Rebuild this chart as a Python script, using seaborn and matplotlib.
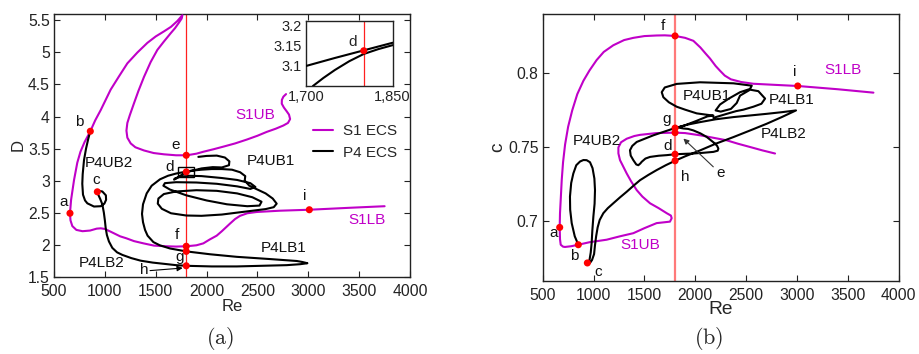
import matplotlib
matplotlib.use("Agg")
import matplotlib.pyplot as plt
import seaborn as sns
import pandas as pd

# ---------------- data ----------------
# Panel (a): S1 ECS branch (Re, D), from S1LB end to S1UB end
S1_A = [(3750, 2.60), (3400, 2.575), (3010, 2.545), (2722, 2.53), (2493, 2.51), (2400, 2.49),
        (2329, 2.45), (2280, 2.40), (2231, 2.33), (2150, 2.21), (2099, 2.14), (2030, 2.08),
        (1968, 2.02), (1900, 1.99), (1805, 1.975), (1700, 1.97), (1600, 1.975), (1483, 1.985),
        (1380, 2.02), (1287, 2.055), (1210, 2.10), (1150, 2.13), (1060, 2.20), (1000, 2.245),
        (960, 2.255), (920, 2.25), (854, 2.22), (780, 2.21), (720, 2.23), (680, 2.29),
        (662, 2.38), (657, 2.49), (668, 2.70), (697, 3.01), (729, 3.28), (760, 3.45),
        (800, 3.60), (857, 3.77), (905, 3.94), (959, 4.10), (1057, 4.42), (1140, 4.63),
        (1221, 4.83), (1320, 5.00), (1418, 5.15), (1500, 5.25), (1582, 5.33), (1650, 5.40),
        (1712, 5.49), (1745, 5.55), (1762, 5.58), (1755, 5.53), (1730, 5.47), (1690, 5.38),
        (1647, 5.30), (1580, 5.17), (1516, 5.04), (1450, 4.85), (1385, 4.62), (1330, 4.40),
        (1287, 4.21), (1245, 4.02), (1221, 3.90), (1212, 3.78), (1221, 3.67), (1254, 3.58),
        (1300, 3.52), (1385, 3.47), (1480, 3.43), (1582, 3.41), (1700, 3.395), (1805, 3.395),
        (1900, 3.42), (1968, 3.45), (2070, 3.49), (2165, 3.53), (2280, 3.58), (2395, 3.64),
        (2500, 3.70), (2591, 3.76), (2680, 3.81), (2755, 3.86), (2800, 3.90), (2821, 3.96),
        (2810, 4.03), (2788, 4.08), (2760, 4.14), (2739, 4.20), (2740, 4.26), (2755, 4.31),
        (2781, 4.35)]

# Panel (a): P4 ECS branch (Re, D), from b through c, the lower hairpin and the tangle
P4_A = [(857, 3.77), (838, 3.66), (815, 3.50), (795, 3.32), (782, 3.10), (778, 2.95),
        (785, 2.78), (805, 2.69), (828, 2.645), (893, 2.595), (959, 2.60), (995, 2.64),
        (1012, 2.70), (1010, 2.77), (975, 2.83), (940, 2.84), (926, 2.825), (935, 2.78),
        (955, 2.71), (975, 2.63), (990, 2.50), (1000, 2.38), (1008, 2.26), (1020, 2.15),
        (1040, 2.05), (1073, 1.95), (1120, 1.88), (1172, 1.84), (1260, 1.79), (1352, 1.75),
        (1470, 1.72), (1582, 1.70), (1700, 1.68), (1800, 1.67), (2050, 1.66), (2296, 1.66),
        (2550, 1.67), (2788, 1.68), (2920, 1.695), (2991, 1.71), (2940, 1.73), (2886, 1.745),
        (2624, 1.775), (2296, 1.81), (2034, 1.85), (1800, 1.895), (1641, 1.94), (1540, 1.99),
        (1477, 2.04), (1420, 2.14), (1395, 2.23), (1375, 2.35), (1365, 2.48), (1375, 2.63),
        (1411, 2.80), (1460, 2.92), (1542, 3.02), (1620, 3.075), (1700, 3.11), (1750, 3.125),
        (1800, 3.14), (1850, 3.155), (1950, 3.17), (2050, 3.18), (2150, 3.18), (2250, 3.17),
        (2330, 3.13), (2380, 3.07), (2375, 3.00), (2420, 2.92), (2500, 2.86), (2580, 2.80),
        (2650, 2.72), (2689, 2.64), (2660, 2.585), (2580, 2.555), (2450, 2.53), (2300, 2.50),
        (2150, 2.47), (1950, 2.45), (1800, 2.455), (1650, 2.49), (1560, 2.56), (1520, 2.64),
        (1526, 2.72), (1580, 2.79), (1700, 2.83), (1900, 2.85), (2100, 2.84), (2300, 2.80),
        (2450, 2.74), (2540, 2.67), (2520, 2.61), (2400, 2.60), (2200, 2.63), (2000, 2.69),
        (1800, 2.77), (1640, 2.86), (1575, 2.92), (1590, 2.96), (1700, 2.975), (1900, 2.97),
        (2100, 2.95), (2300, 2.91), (2430, 2.87), (2480, 2.90), (2430, 2.96), (2300, 3.01),
        (2150, 3.04), (1950, 3.07), (1830, 3.075), (1740, 3.06), (1690, 3.035), (1680, 3.015),
        (1700, 3.03), (1740, 3.075), (1780, 3.11), (1800, 3.13), (1850, 3.15), (1950, 3.19),
        (2060, 3.21), (2150, 3.205), (2220, 3.24), (2224, 3.30), (2180, 3.36), (2100, 3.39),
        (2000, 3.385), (1919, 3.37)]

# Panel (a) inset (zoom around d)
INSET_L1 = [(1700, 3.100), (1750, 3.120), (1800, 3.139), (1850, 3.158)]
INSET_L2 = [(1712, 3.05), (1730, 3.07), (1750, 3.09), (1775, 3.112), (1800, 3.13),
            (1825, 3.142), (1850, 3.152)]
INSET_PT = [(1800, 3.138)]

# Panel (a) labelled solutions
PTS_A = [(657, 2.49), (857, 3.77), (926, 2.825), (1800, 3.135), (1800, 3.395),
         (1800, 1.975), (1800, 1.895), (1800, 1.67), (3010, 2.545)]

# Panel (b): S1 ECS branch (Re, c)
S1_B = [(3751, 0.787), (3400, 0.7893), (3007, 0.7915), (2800, 0.7922), (2571, 0.7930),
        (2450, 0.7942), (2350, 0.7960), (2290, 0.7985), (2243, 0.8018), (2200, 0.8050),
        (2145, 0.8100), (2100, 0.8135), (2050, 0.8175), (1981, 0.8220), (1900, 0.8240),
        (1801, 0.8253), (1700, 0.8257), (1620, 0.8256), (1500, 0.8252), (1391, 0.8240),
        (1300, 0.8225), (1194, 0.8190), (1100, 0.8145), (1030, 0.8090), (960, 0.8020),
        (900, 0.7950), (840, 0.7860), (790, 0.7750), (750, 0.7640), (720, 0.7520),
        (700, 0.7400), (687, 0.7280), (678, 0.7160), (670, 0.7056), (667, 0.6960),
        (670, 0.6880), (677, 0.6843), (700, 0.6830), (719, 0.6828), (780, 0.6833),
        (850, 0.6843), (960, 0.6860), (1129, 0.6877), (1260, 0.6900), (1391, 0.6921),
        (1500, 0.6955), (1620, 0.6989), (1700, 0.6995), (1751, 0.6999), (1768, 0.7022),
        (1760, 0.7040), (1719, 0.7056), (1640, 0.7090), (1555, 0.7123), (1480, 0.7168),
        (1424, 0.7212), (1370, 0.7270), (1326, 0.7324), (1285, 0.7380), (1260, 0.7414),
        (1244, 0.7460), (1244, 0.7500), (1270, 0.7535), (1326, 0.7559), (1400, 0.7577),
        (1457, 0.7585), (1620, 0.7597), (1801, 0.7600), (1900, 0.7597), (2047, 0.7582),
        (2180, 0.7565), (2309, 0.7548), (2420, 0.7525), (2538, 0.7503), (2660, 0.7480),
        (2784, 0.7459)]

# Panel (b): P4 ECS branch (Re, c)
P4_B = [(850, 0.6843), (815, 0.6900), (785, 0.6989), (770, 0.7080), (768, 0.7168),
        (780, 0.7260), (801, 0.7324), (830, 0.7380), (867, 0.7405), (900, 0.7415),
        (932, 0.7414), (965, 0.7400), (990, 0.7360), (1008, 0.7290), (1014, 0.7212),
        (1010, 0.7120), (998, 0.7033), (988, 0.6940), (981, 0.6855), (972, 0.6790),
        (960, 0.6740), (939, 0.6720), (965, 0.6720), (985, 0.6740), (1005, 0.6780),
        (1014, 0.6840), (1025, 0.6899), (1040, 0.6960), (1060, 0.7010), (1096, 0.7056),
        (1140, 0.7090), (1194, 0.7123), (1260, 0.7163), (1326, 0.7201), (1390, 0.7240),
        (1457, 0.7279), (1540, 0.7315), (1620, 0.7347), (1710, 0.7380), (1801, 0.7410),
        (1900, 0.7440), (2047, 0.7480), (2200, 0.7525), (2375, 0.7570), (2540, 0.7615),
        (2702, 0.7660), (2850, 0.7705), (2990, 0.7750), (2850, 0.7738), (2702, 0.7727),
        (2540, 0.7716), (2375, 0.7705), (2200, 0.7690), (2047, 0.7671), (1930, 0.7655),
        (1850, 0.7640), (1801, 0.7631), (1700, 0.7608), (1588, 0.7582), (1500, 0.7558),
        (1424, 0.7537), (1380, 0.7510), (1358, 0.7481), (1365, 0.7445), (1391, 0.7414),
        (1420, 0.7385), (1440, 0.7380), (1460, 0.7392), (1473, 0.7403), (1510, 0.7425),
        (1555, 0.7436), (1640, 0.7444), (1719, 0.7448), (1801, 0.7454), (1900, 0.7457),
        (1981, 0.7459), (2080, 0.7464), (2178, 0.7470), (2220, 0.7478), (2227, 0.7492),
        (2215, 0.7510), (2194, 0.7526), (2150, 0.7550), (2112, 0.7571), (2050, 0.7595),
        (1981, 0.7615), (1930, 0.7625), (1883, 0.7628), (1830, 0.7635), (1900, 0.7650),
        (2014, 0.7680), (2120, 0.7710), (2178, 0.7715), (2100, 0.7722), (2014, 0.7730),
        (1900, 0.7755), (1817, 0.7775), (1740, 0.7805), (1686, 0.7839), (1670, 0.7873),
        (1700, 0.7905), (1817, 0.7929), (2047, 0.7940), (2375, 0.7933), (2555, 0.7917),
        (2538, 0.7895), (2440, 0.7873), (2330, 0.7830), (2243, 0.7790), (2200, 0.7750),
        (2250, 0.7742), (2350, 0.7760), (2407, 0.7800), (2440, 0.7850), (2539, 0.7890),
        (2620, 0.7880), (2686, 0.7830), (2650, 0.7795), (2571, 0.7775), (2473, 0.7755),
        (2400, 0.7745), (2300, 0.7725), (2178, 0.7700)]

PTS_B = [(667, 0.6960), (850, 0.6843), (939, 0.6720), (1801, 0.7454), (1801, 0.8253),
         (1801, 0.7631), (1801, 0.7600), (1801, 0.7410), (3007, 0.7915)]

RE_CUT = 1800
X_TICKS = [500, 1000, 1500, 2000, 2500, 3000, 3500, 4000]
YA_TICKS = [1.5, 2, 2.5, 3, 3.5, 4, 4.5, 5, 5.5]
YA_LABELS = ['1.5', '2', '2.5', '3', '3.5', '4', '4.5', '5', '5.5']
YB_TICKS = [0.7, 0.75, 0.8]
YB_LABELS = ['0.7', '0.75', '0.8']
IN_XTICKS = [1700, 1850]
IN_XLABELS = ['1,700', '1,850']
IN_YTICKS = [3.1, 3.15, 3.2]
IN_YLABELS = ['3.1', '3.15', '3.2']

# ---------------- styling ----------------
sns.set_theme(style="ticks")
plt.rcParams['font.family'] = ['Liberation Sans', 'DejaVu Sans']
plt.rcParams['mathtext.fontset'] = 'cm'

MAG = '#c000c8'
RED_A = '#ff2020'
RED_B = '#ff7a7a'
FS = 11.3


def df(pairs, cols=("Re", "v")):
    return pd.DataFrame(pairs, columns=list(cols))


def curve(ax, pairs, color, lw=1.5, z=3):
    d = df(pairs)
    sns.lineplot(data=d, x="Re", y="v", sort=False, estimator=None, color=color,
                 lw=lw, ax=ax, zorder=z, legend=False)


def points(ax, pairs, s=26):
    d = df(pairs)
    sns.scatterplot(data=d, x="Re", y="v", color='red', s=s, edgecolor='none',
                    ax=ax, zorder=6, legend=False)


def style_axes(ax):
    for sp in ax.spines.values():
        sp.set_color('#222222')
        sp.set_linewidth(1.0)
    ax.tick_params(direction='in', top=True, right=True, length=4, width=0.8,
                   labelsize=FS, colors='#222222')
    ax.tick_params(axis='x', pad=5)
    ax.tick_params(axis='y', pad=3)


fig = plt.figure(figsize=(9.2, 3.54), dpi=100)
axA = fig.add_axes([0.0587, 0.2184, 0.387, 0.742])
axB = fig.add_axes([0.5899, 0.207, 0.387, 0.753])

# ---------------- panel (a) ----------------
axA.axvline(RE_CUT, color=RED_A, lw=0.9, zorder=2)
curve(axA, S1_A, MAG, lw=1.5)
curve(axA, P4_A, 'black', lw=1.5)
points(axA, PTS_A)
axA.set_xlim(500, 4000)
axA.set_ylim(1.5, 5.6)
axA.set_xticks(X_TICKS)
axA.set_yticks(YA_TICKS)
axA.set_yticklabels(YA_LABELS)
axA.set_xlabel('Re', fontsize=FS + 0.7, labelpad=0)
axA.set_ylabel('D', fontsize=FS + 0.7, labelpad=2)
style_axes(axA)

axA.add_patch(plt.Rectangle((1720, 3.06), 160, 0.15, fill=False, ec='black', lw=1.0, zorder=5))

for txt, x, y in [('a', 592, 2.67), ('b', 749, 3.91), ('c', 910, 3.01), ('d', 1634, 3.21),
                  ('e', 1697, 3.55), ('f', 1713, 2.15), ('g', 1739, 1.80), ('h', 1385, 1.60),
                  ('i', 2968, 2.76), ('P4UB2', 1044, 3.27), ('P4UB1', 2631, 3.31),
                  ('P4LB1', 2755, 1.94), ('P4LB2', 969, 1.71)]:
    axA.text(x, y, txt, fontsize=FS - 0.3, ha='center', va='center', color='#111111')
for txt, x, y in [('S1UB', 2476, 4.03), ('S1LB', 3575, 2.39)]:
    axA.text(x, y, txt, fontsize=FS - 0.3, ha='center', va='center', color=MAG)
axA.annotate('', xy=(1765, 1.635), xytext=(1444, 1.595),
             arrowprops=dict(arrowstyle='-|>', color='black', lw=0.8,
                             mutation_scale=8, shrinkA=0, shrinkB=0))

h1, = axA.plot([], [], color=MAG, lw=1.5)
h2, = axA.plot([], [], color='black', lw=1.5)
axA.legend([h1, h2], ['S1 ECS', 'P4 ECS'], frameon=False, fontsize=FS - 0.3,
           loc='center left', bbox_to_anchor=(0.728, 0.513), borderpad=0,
           borderaxespad=0, handlelength=1.3, labelspacing=0.5, handletextpad=0.65)

# inset
axIn = fig.add_axes([0.3326, 0.757, 0.0942, 0.1845])
axIn.set_facecolor('white')
axIn.axvline(RE_CUT, color=RED_A, lw=0.9, zorder=2)
curve(axIn, INSET_L1, 'black', lw=1.5)
curve(axIn, INSET_L2, 'black', lw=1.5)
points(axIn, INSET_PT, s=26)
axIn.set_xlim(1700, 1850)
axIn.set_ylim(3.05, 3.213)
axIn.set_xticks(IN_XTICKS)
axIn.set_xticklabels(IN_XLABELS)
axIn.set_yticks(IN_YTICKS)
axIn.set_yticklabels(IN_YLABELS)
axIn.set_xlabel('')
axIn.set_ylabel('')
style_axes(axIn)
axIn.tick_params(length=0, labelsize=FS - 0.8)
axIn.tick_params(axis='x', pad=3)
axIn.tick_params(axis='y', pad=3)
axIn.text(1781, 3.159, 'd', fontsize=FS - 0.3, ha='center', va='center')

# ---------------- panel (b) ----------------
axB.axvline(RE_CUT, color=RED_B, lw=1.6, zorder=2)
curve(axB, S1_B, MAG, lw=1.5)
curve(axB, P4_B, 'black', lw=1.5)
points(axB, PTS_B)
axB.set_xlim(500, 4000)
axB.set_ylim(0.66, 0.84)
axB.set_xticks(X_TICKS)
axB.set_yticks(YB_TICKS)
axB.set_yticklabels(YB_LABELS)
axB.set_xlabel('Re', fontsize=FS + 2.5, labelpad=-1)
axB.set_ylabel('c', fontsize=FS + 2.5, labelpad=1)
style_axes(axB)

for txt, x, y in [('f', 1680, 0.832), ('i', 2981, 0.8007), ('P4UB1', 2112, 0.7844),
                  ('P4LB1', 2948, 0.7817), ('g', 1719, 0.7694), ('P4LB2', 2866, 0.7593),
                  ('P4UB2', 1031, 0.7544), ('d', 1725, 0.7510), ('e', 2253, 0.7329),
                  ('h', 1899, 0.7302), ('a', 611, 0.6922), ('b', 811, 0.6770),
                  ('c', 1047, 0.6658)]:
    axB.text(x, y, txt, fontsize=FS - 0.3, ha='center', va='center', color='#111111')
for txt, x, y in [('S1LB', 3456, 0.8020), ('S1UB', 1457, 0.6839)]:
    axB.text(x, y, txt, fontsize=FS - 0.3, ha='center', va='center', color=MAG)
axB.annotate('', xy=(1883, 0.7560), xytext=(2177, 0.7369),
             arrowprops=dict(arrowstyle='-|>', color='#333333', lw=0.8,
                             mutation_scale=8, shrinkA=0, shrinkB=0))

fig.text(0.239, 0.045, r'$\mathrm{(a)}$', fontsize=16, ha='center', va='center')
fig.text(0.770, 0.045, r'$\mathrm{(b)}$', fontsize=16, ha='center', va='center')

fig.savefig('out.png', dpi=100)
